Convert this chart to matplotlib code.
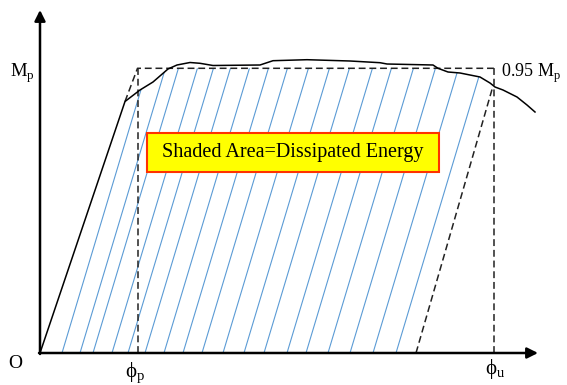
import matplotlib
matplotlib.use("Agg")
import matplotlib.pyplot as plt
from matplotlib.patches import Polygon, Rectangle

plt.rcParams['font.family'] = ['Liberation Serif', 'DejaVu Serif']
plt.rcParams['mathtext.fontset'] = 'custom'
plt.rcParams['mathtext.rm'] = 'Liberation Serif'

# moment-curvature curve (curvature, moment), arbitrary units
phi_curve = [0, 85, 100, 113, 128, 137, 150, 160, 173, 220, 233, 267, 310, 340, 347,
             393, 398, 408, 420, 440, 450, 455, 463, 477, 487, 495]
m_curve = [0, 251.5, 263, 271, 284, 288, 290.5, 289.7, 287.5, 288, 292.3, 293.3, 292,
           290.3, 289, 288, 284.7, 281, 280, 276, 270, 266, 263, 256, 248, 241]

Mp = 284.7
phi_y = 85        # end of elastic branch
m_y = 251.5
phi_p = 97.5
phi_u = 454
unload_phi = [376, 453]
unload_m = [0, 267]

# hatch lines: where they start on the curvature axis, and their slope dphi/dM
hatch_start = [22, 40, 53, 72, 88, 105, 124, 143, 162, 183, 204, 224, 247, 266,
               288, 310, 333, 356]
hatch_slope = 0.30

fig = plt.figure(figsize=(5.67, 3.85), dpi=100)
ax = fig.add_axes([0, 0, 1, 1])
ax.set_xlim(-40, 527)
ax.set_ylim(-32, 353)
ax.axis('off')

# shaded region (clip path for hatch lines)
verts = [(0, 0)]
for p, m in zip(phi_curve, m_curve):
    if 0 < p <= 450:
        verts.append((p, min(m, Mp)))
verts.append((unload_phi[1], unload_m[1]))
verts.append((unload_phi[0], unload_m[0]))
region = Polygon(verts, closed=True, facecolor='none', edgecolor='none')
ax.add_patch(region)

for p0 in hatch_start:
    ln, = ax.plot([p0, p0 + hatch_slope * 330], [0, 330], color='#5b9bd5', lw=0.8, zorder=1)
    ln.set_clip_path(region)

# dashed idealised lines
dash = dict(color='#222222', lw=1.1, ls=(0, (4.5, 2.5)), zorder=2)
ax.plot([phi_y, phi_p, phi_u], [m_y, Mp, Mp], **dash)
ax.plot([phi_p, phi_p], [0, Mp], **dash)
ax.plot([phi_u, phi_u], [0, Mp], **dash)
ax.plot(unload_phi, unload_m, **dash)

# actual curve
ax.plot(phi_curve, m_curve, color='black', lw=1.1, zorder=3)

# axes with arrows
ax.annotate('', xy=(0, 343), xytext=(0, -1),
            arrowprops=dict(arrowstyle='-|>', color='black', lw=1.8, mutation_scale=16, shrinkA=0, shrinkB=0))
ax.annotate('', xy=(498, 0), xytext=(-1, 0),
            arrowprops=dict(arrowstyle='-|>', color='black', lw=1.8, mutation_scale=16, shrinkA=0, shrinkB=0))

# box with label
ax.add_patch(Rectangle((107, 181), 292, 39.5, facecolor='#ffff00', edgecolor='#ff3300', lw=1.5, zorder=4))
ax.text(253, 200.5, 'Shaded Area=Dissipated Energy', ha='center', va='center', fontsize=14.5, zorder=5)

ax.text(-5, 280, r'M$_\mathrm{p}$', ha='right', va='center', fontsize=13.5)
ax.text(461, 280, r'0.95 M$_\mathrm{p}$', ha='left', va='center', fontsize=13)
ax.text(-25, -10, 'O', ha='center', va='center', fontsize=14)
ax.text(phi_p - 3, -20, r'ϕ$_\mathrm{p}$', ha='center', va='center', fontsize=15)
ax.text(phi_u + 1, -16, r'ϕ$_\mathrm{u}$', ha='center', va='center', fontsize=15)

fig.savefig('out.png', dpi=100)
